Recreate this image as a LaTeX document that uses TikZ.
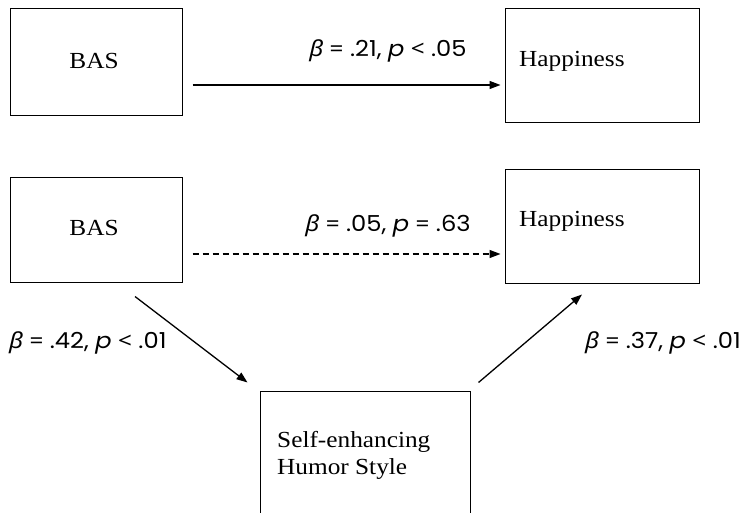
\documentclass[tikz,border=0pt]{standalone}
\usepackage{fontspec}
\setmainfont[FakeStretch=1.1]{Liberation Serif}
\newfontfamily\lblfont[FakeStretch=1.1]{Poppins}
\newfontfamily\grkfont[FakeStretch=1.1]{Noto Sans}
\usetikzlibrary{arrows.meta}
\tikzset{
  box/.style={draw, line width=1pt, rectangle, inner sep=0pt},
  boxtext/.style={font=\fontsize{23}{27}\selectfont, inner sep=0pt, align=left},
  lbl/.style={font=\lblfont\fontsize{22}{26}\selectfont, inner sep=0pt},
  arr/.style={line width=1.3pt, -{Triangle[length=11pt,width=8pt]}},
}
\newcommand{\bet}{{\grkfont\itshape β}}
\newcommand{\lt}{{\grkfont <}}
\newcommand{\eq}{{\grkfont =}}
\begin{document}
\begin{tikzpicture}[x=1pt,y=-1pt]
\clip (0,0) rectangle (742,513);
\fill[white] (0,0) rectangle (742,513);
% boxes
\node[box, minimum width=172pt, minimum height=107pt] (bas1) at (96,62.5) {};
\node[box, minimum width=194pt, minimum height=114pt] (hap1) at (602,66) {};
\node[box, minimum width=172pt, minimum height=105pt] (bas2) at (96,230.5) {};
\node[box, minimum width=194pt, minimum height=114pt] (hap2) at (602,227) {};
\node[box, minimum width=210pt, minimum height=140pt] (seh) at (365,461) {};
% box texts
\node[boxtext] (t1) at (94,61) {BAS};
\node[boxtext, anchor=west] (t2) at (519,61) {Happiness};
\node[boxtext] (t3) at (94,228) {BAS};
\node[boxtext, anchor=west] (t4) at (519,221) {Happiness};
\node[boxtext, anchor=north west] (t5) at (277,431) {Self-enhancing\\Humor Style};
% arrows
\draw[arr] ([shift={(10,22.5)}]bas1.east) -- ([shift={(-4,19)}]hap1.west);
\draw[arr, dashed, dash pattern=on 6pt off 4pt] ([shift={(10,23.5)}]bas2.east) -- ([shift={(-4,27)}]hap2.west);
\draw[arr] ([shift={(39,13)}]bas2.south) -- ([shift={(-12,-8)}]seh.north west);
\draw[arr] ([shift={(8,-8)}]seh.north east) -- ([shift={(-20,10)}]hap2.south);
% labels
\node[lbl] (l1) at (388,51) {\bet{} \eq{} .21, \textit{p} \lt{} .05};
\node[lbl] (l2) at (388,226) {\bet{} \eq{} .05, \textit{p} \eq{} .63};
\node[lbl, anchor=west] (l3) at (9,343) {\bet{} \eq{} .42, \textit{p} \lt{} .01};
\node[lbl, anchor=east] (l4) at (741,343) {\bet{} \eq{} .37, \textit{p} \lt{} .01};
\end{tikzpicture}
\end{document}
